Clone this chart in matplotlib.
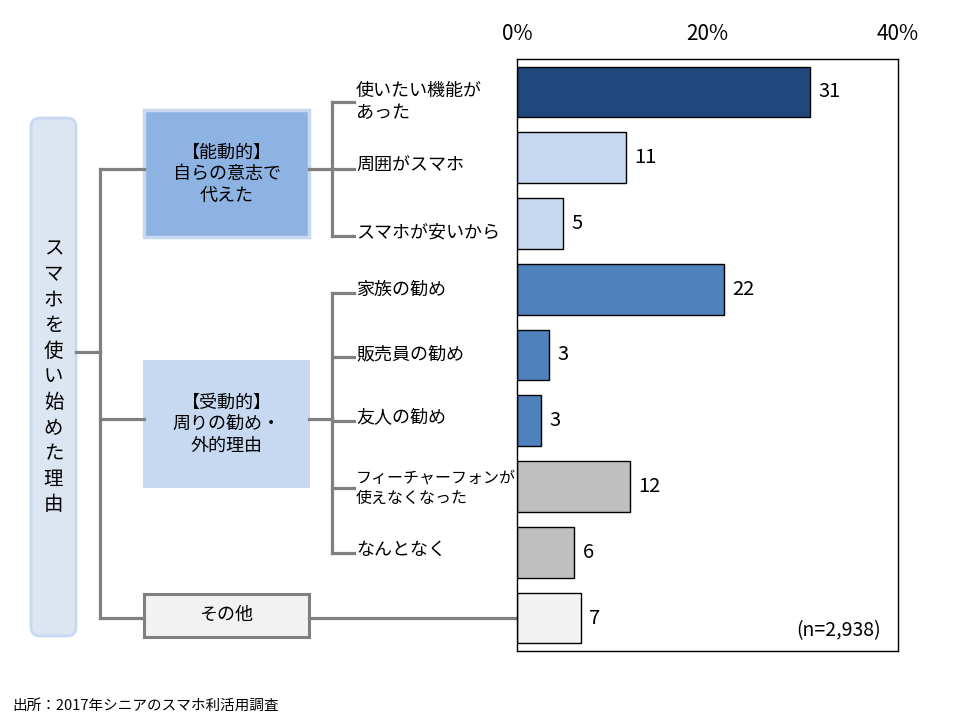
import matplotlib.pyplot as plt
import numpy as np
from matplotlib.patches import Rectangle, FancyBboxPatch

plt.rcParams['font.family'] = ['Noto Sans CJK JP', 'DejaVu Sans']

# data (bar length in %, printed label)
reasons = ["使いたい機能が\nあった", "周囲がスマホ", "スマホが安いから",
           "家族の勧め", "販売員の勧め", "友人の勧め",
           "フィーチャーフォンが\n使えなくなった", "なんとなく", "その他"]
shares = [30.8, 11.4, 4.8, 21.7, 3.4, 2.5, 11.9, 6.0, 6.7]
labels = ["31", "11", "5", "22", "3", "3", "12", "6", "7"]
bar_colors = ["#1F497D", "#C6D9F1", "#C6D9F1", "#4F81BD", "#4F81BD", "#4F81BD",
              "#BFBFBF", "#BFBFBF", "#F2F2F2"]
ticks = [0, 20, 40]
tick_labels = ["0%", "20%", "40%"]
sample = "(n=2,938)"
source = "出所：2017年シニアのスマホ利活用調査"
title_v = "スマホを使い始めた理由"
group_active = "【能動的】\n自らの意志で\n代えた"
group_passive = "【受動的】\n周りの勧め・\n外的理由"
group_other = "その他"

W, H = 960, 720
fig = plt.figure(figsize=(9.6, 7.2), dpi=100)

# overlay in pixel coords for the tree diagram
ov = fig.add_axes([0, 0, 1, 1])
ov.set_xlim(0, W)
ov.set_ylim(H, 0)
ov.axis("off")

gray = "#808080"
lw = 2.3

# outer rounded box with vertical text
ov.add_patch(FancyBboxPatch((31, 118), 45, 518, boxstyle="round,pad=0,rounding_size=9",
                            fc="#DCE6F2", ec="#C6D9F1", lw=2))
n = len(title_v)
for i, ch in enumerate(title_v):
    ov.text(53.5, 377 + (i - (n - 1) / 2) * 25.6, ch, ha="center", va="center", fontsize=14)

# group boxes
ov.add_patch(Rectangle((144, 110), 165, 127, fc="#8DB3E2", ec="#C6D9F1", lw=2.5))
ov.text(226.5, 174, group_active, ha="center", va="center", fontsize=13, linespacing=1.25)
ov.add_patch(Rectangle((143, 360), 167, 128, fc="#C6D9F1", ec="none"))
ov.text(226.5, 424, group_passive, ha="center", va="center", fontsize=13, linespacing=1.25)
ov.add_patch(Rectangle((144, 594), 165, 43, fc="#F2F2F2", ec="#7F7F7F", lw=2.2))
ov.text(226.5, 615, group_other, ha="center", va="center", fontsize=13)

# connectors
ov.plot([76, 100], [352, 352], color=gray, lw=lw)
ov.plot([100, 100], [169, 618], color=gray, lw=lw)
for y in [169, 419, 618]:
    ov.plot([100, 144], [y, y], color=gray, lw=lw)
ov.plot([309, 517], [618, 618], color=gray, lw=lw)

stubs_active = [102, 169, 236]
stubs_passive = [293, 357, 421, 488, 553]
for stubs, yc in [(stubs_active, 169), (stubs_passive, 419)]:
    ov.plot([309, 332], [yc, yc], color=gray, lw=lw)
    ov.plot([332, 332], [stubs[0], stubs[-1]], color=gray, lw=lw)
    for y in stubs:
        ov.plot([332, 354], [y, y], color=gray, lw=lw)

for name, y in zip(reasons[:8], stubs_active + stubs_passive):
    dy = 0 if "\n" in name else -3
    fs = 11.5 if name.startswith("フィーチャー") else 13
    ov.text(356, y + dy, name, ha="left", va="center", fontsize=fs, linespacing=1.25)

ov.text(12, 706, source, ha="left", va="center", fontsize=10.5)

# bar chart
ax = fig.add_axes([517 / W, 1 - 651 / H, (898 - 517) / W, (651 - 59) / H])
pos = np.arange(len(shares))
bars = ax.barh(pos, shares, height=0.77, color=bar_colors, edgecolor="black", linewidth=1)
ax.bar_label(bars, labels=labels, padding=6, fontsize=14.5)
ax.set_xlim(0, 40)
ax.set_ylim(len(shares) - 0.5, -0.5)
ax.set_yticks([])
ax.set_xticks(ticks)
ax.set_xticklabels(tick_labels, fontsize=15)
ax.xaxis.tick_top()
ax.tick_params(axis="x", length=0, pad=10)
for s in ax.spines.values():
    s.set_linewidth(1)
ax.text(0.955, 0.035, sample, transform=ax.transAxes, ha="right", va="center", fontsize=14)

fig.savefig("out.png", dpi=100)
